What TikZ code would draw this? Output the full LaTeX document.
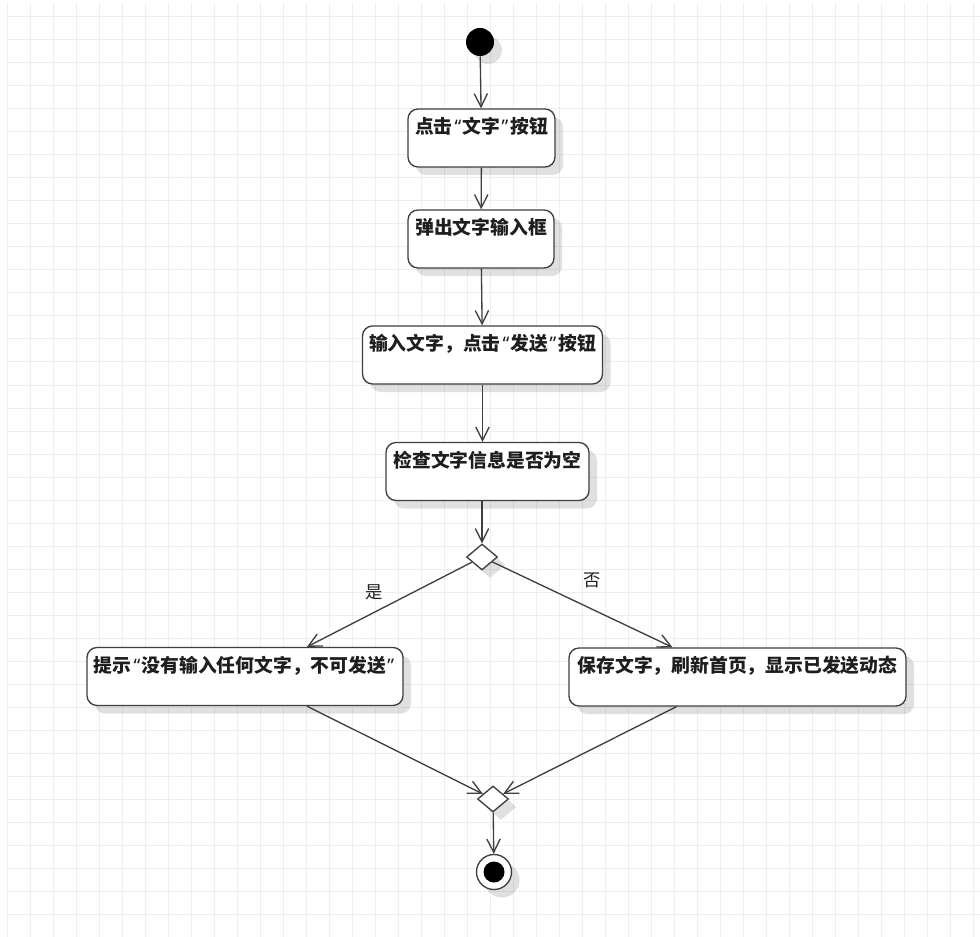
\documentclass[tikz,border=0pt]{standalone}
\usepackage{fontspec}
\newfontfamily\cjk{Noto Sans CJK SC}
\newfontfamily\quotefont{Noto Sans}
\usetikzlibrary{arrows.meta,shapes.geometric,shadows}

\definecolor{umlline}{HTML}{3F3F3F}
\definecolor{umltext}{HTML}{1E1E1E}
\definecolor{gridline}{HTML}{EEEEEE}

\newdimen\pix \pix=0.75pt
% narrow curly quotes
\newcommand{\oquote}{\kern1.5pt{\quotefont“}\kern1pt}
\newcommand{\cquote}{\kern1pt{\quotefont”}\kern1.5pt}

\tikzset{
  umlshadow/.style={drop shadow={shadow xshift=6pt, shadow yshift=-6pt, opacity=0.12, fill=black}},
  action/.style={draw=umlline, line width=1pt, rounded corners=7.5pt, fill=white, text=umltext,
    font=\cjk\bfseries\fontsize{14.1pt}{16pt}\selectfont,
    inner xsep=0pt, inner ysep=5pt, text height=13.5pt, text depth=20pt, umlshadow},
  choice/.style={diamond, draw=umlline, line width=1pt, fill=white, inner sep=0pt,
    minimum width=31\pix, minimum height=26\pix, umlshadow},
  start/.style={circle, fill=black, inner sep=0pt, minimum size=28\pix, umlshadow},
  finish/.style={circle, draw=umlline, line width=1pt, fill=white, inner sep=0pt, minimum size=35\pix,
    umlshadow, path picture={\fill[black] (path picture bounding box.center) circle (10.5\pix);}},
  flow/.style={draw=umlline, line width=1pt, -{Straight Barb[length=10pt, width=10pt]}},
  guard/.style={text=umltext, font=\cjk\fontsize{13pt}{15pt}\selectfont}
}

\begin{document}
\begin{tikzpicture}[x=0.75pt, y=-0.75pt]
  \useasboundingbox (0,0) rectangle (980,937);
  \fill[white] (0,0) rectangle (980,937);

  % background grid
  \foreach \gx in {0,...,42}
    \draw[gridline, line width=0.75pt] ({7+23*\gx},3) -- ({7+23*\gx},937);
  \foreach \gy in {0,...,40}
    \draw[gridline, line width=0.75pt] (7,{17+23*\gy}) -- (980,{17+23*\gy});

  % activities
  \node[start] (init) at (480,42) {};
  \node[action, minimum width=147\pix] (click) at (481.5,138) {点击\oquote 文字\cquote 按钮};
  \node[action, minimum width=146\pix] (popup) at (481,239) {弹出文字输入框};
  \node[action, minimum width=240\pix] (input) at (482.5,355) {输入文字，点击\oquote 发送\cquote 按钮};
  \node[action, minimum width=203\pix] (check) at (487.5,471.5) {检查文字信息是否为空};
  \node[choice] (dec) at (482,557) {};
  \node[action, minimum width=316\pix] (warn) at (245,676.5) {提示\oquote 没有输入任何文字，不可发送\cquote};
  \node[action, minimum width=337\pix] (save) at (737.5,677) {保存文字，刷新首页，显示已发送动态};
  \node[choice] (merge) at (493,799) {};
  \node[finish] (final) at (494,872) {};

  % transitions
  \draw[flow] (init) -- (click);
  \draw[flow] (click) -- (popup);
  \draw[flow] (popup) -- (input);
  \draw[flow] (input) -- (input |- check.north);
  \draw[flow] (dec |- check.south) -- (dec);
  \draw[flow] (dec) -- node[guard, pos=0.59, above=5pt] (yeslbl) {是} ([xshift=62\pix]warn.north);
  \draw[flow] (dec) -- node[guard, pos=0.555, above=12pt] (nolbl) {否} ([xshift=-65\pix]save.north);
  \draw[flow] ([xshift=62\pix]warn.south) -- (merge);
  \draw[flow] ([xshift=-61\pix]save.south) -- (merge);
  \draw[flow] (merge) -- (final);
\end{tikzpicture}
\end{document}
